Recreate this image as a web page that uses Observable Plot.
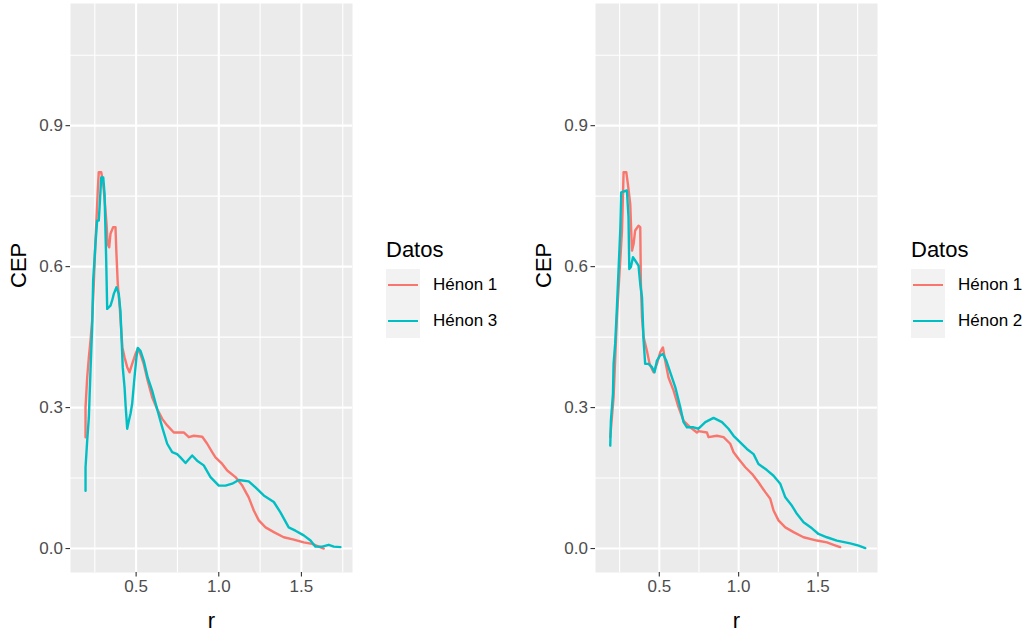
<!DOCTYPE html>
<html><head><meta charset="utf-8">
<script src="https://cdn.jsdelivr.net/npm/d3@7"></script>
<script src="https://cdn.jsdelivr.net/npm/@observablehq/plot@0.6"></script>
<style>
body{margin:0;background:#fff;font-family:"Liberation Sans",Arial,sans-serif;}
#wrap{position:relative;width:1031px;height:632px;overflow:hidden;}
.panel{position:absolute;top:0;}
.lg-title{position:absolute;font-size:22px;color:#000;line-height:22px;}
.lg-box{position:absolute;width:34px;height:69px;background:#F2F2F2;}
.lg-key{position:absolute;width:30px;height:2.4px;}
.lg-lab{position:absolute;font-size:17px;color:#000;line-height:17px;}
</style></head><body><div id="wrap"></div><script>
// Left panel: Hénon 1 vs Hénon 3
const r_h1_left = [0.194,0.194,0.204,0.214,0.224,0.234,0.244,0.254,0.260,0.268,0.274,0.289,0.301,0.310,0.321,0.328,0.337,0.345,0.361,0.375,0.381,0.389,0.401,0.410,0.417,0.430,0.446,0.460,0.476,0.496,0.510,0.526,0.546,0.570,0.597,0.627,0.658,0.688,0.728,0.768,0.788,0.819,0.849,0.900,0.930,0.960,0.980,1.021,1.051,1.101,1.142,1.181,1.212,1.242,1.283,1.333,1.393,1.454,1.514,1.565,1.605,1.635];
const cep_h1_left = [0.237,0.301,0.364,0.407,0.443,0.485,0.563,0.655,0.698,0.762,0.801,0.801,0.776,0.740,0.691,0.648,0.641,0.670,0.684,0.684,0.627,0.563,0.513,0.464,0.428,0.407,0.386,0.375,0.393,0.414,0.425,0.414,0.393,0.357,0.322,0.297,0.276,0.262,0.247,0.247,0.247,0.237,0.240,0.238,0.223,0.205,0.194,0.180,0.166,0.152,0.134,0.109,0.081,0.060,0.045,0.035,0.024,0.019,0.013,0.010,0.004,0.000];
const r_h3_left = [0.194,0.194,0.204,0.214,0.224,0.234,0.240,0.254,0.264,0.274,0.280,0.289,0.301,0.309,0.315,0.319,0.325,0.345,0.355,0.365,0.381,0.395,0.405,0.411,0.419,0.430,0.437,0.446,0.456,0.466,0.476,0.490,0.502,0.510,0.526,0.546,0.570,0.597,0.627,0.658,0.688,0.718,0.748,0.768,0.799,0.839,0.869,0.909,0.950,1.000,1.041,1.081,1.121,1.181,1.222,1.272,1.333,1.373,1.423,1.464,1.514,1.555,1.585,1.626,1.665,1.696,1.736];
const cep_h3_left = [0.123,0.173,0.230,0.279,0.379,0.471,0.570,0.648,0.698,0.698,0.733,0.790,0.790,0.755,0.670,0.613,0.510,0.517,0.528,0.542,0.556,0.542,0.506,0.457,0.386,0.343,0.301,0.255,0.272,0.287,0.308,0.364,0.407,0.427,0.421,0.400,0.364,0.336,0.297,0.258,0.223,0.205,0.201,0.194,0.182,0.198,0.187,0.177,0.152,0.134,0.134,0.138,0.146,0.143,0.130,0.113,0.099,0.077,0.045,0.038,0.028,0.017,0.004,0.004,0.008,0.004,0.003];
// Right panel: Hénon 1 vs Hénon 2
const r_h1_right = [0.191,0.212,0.233,0.265,0.275,0.292,0.302,0.317,0.323,0.328,0.338,0.348,0.369,0.380,0.384,0.391,0.401,0.422,0.439,0.464,0.485,0.506,0.523,0.537,0.558,0.590,0.621,0.653,0.695,0.737,0.747,0.800,0.810,0.863,0.905,0.947,0.968,0.999,1.042,1.084,1.125,1.168,1.199,1.220,1.251,1.294,1.346,1.409,1.493,1.556,1.598,1.640];
const cep_h1_right = [0.237,0.322,0.492,0.677,0.801,0.801,0.776,0.733,0.677,0.634,0.648,0.677,0.687,0.684,0.563,0.492,0.450,0.421,0.393,0.375,0.393,0.418,0.428,0.400,0.364,0.336,0.301,0.272,0.258,0.247,0.250,0.247,0.237,0.240,0.237,0.223,0.205,0.191,0.173,0.159,0.141,0.120,0.106,0.081,0.060,0.045,0.035,0.024,0.017,0.013,0.008,0.003];
const r_h2_right = [0.191,0.195,0.208,0.212,0.222,0.233,0.243,0.254,0.260,0.296,0.306,0.311,0.321,0.334,0.348,0.369,0.380,0.391,0.401,0.411,0.432,0.454,0.470,0.485,0.506,0.523,0.544,0.569,0.601,0.632,0.653,0.674,0.716,0.747,0.790,0.842,0.895,0.936,0.968,1.010,1.052,1.094,1.125,1.178,1.220,1.262,1.294,1.336,1.367,1.409,1.462,1.503,1.556,1.619,1.703,1.756,1.798];
const cep_h2_right = [0.219,0.272,0.329,0.393,0.436,0.513,0.591,0.677,0.758,0.762,0.705,0.595,0.599,0.620,0.613,0.602,0.563,0.535,0.443,0.393,0.393,0.386,0.375,0.400,0.411,0.414,0.400,0.375,0.343,0.301,0.269,0.258,0.258,0.255,0.269,0.278,0.269,0.255,0.240,0.226,0.212,0.201,0.180,0.167,0.155,0.138,0.109,0.091,0.074,0.056,0.043,0.031,0.024,0.017,0.011,0.006,0.001];

const yMajor = [0, 0.3, 0.6, 0.9];
const yMinor = [0.15, 0.45, 0.75, 1.05];
const xMajor = [0.5, 1.0, 1.5];
const xMinor = [0.25, 0.75, 1.25, 1.75];
const legendTitle = "Datos";
const colors = ["#F8766D", "#00BFC4"];

function toRows(rs, cs) { return rs.map((r, i) => ({r, cep: cs[i]})); }

function panel({left, width, marginRight, xDomain, series}) {
  const ax = {fontSize: 17, tickSize: 4.5, tickPadding: 3, stroke: "#333333", fill: "#4D4D4D", strokeWidth: 1.1, label: null, tickFormat: d3.format(".1f")};
  const chart = Plot.plot({
    width, height: 632,
    marginLeft: 70, marginRight, marginTop: 3, marginBottom: 60,
    x: {domain: xDomain},
    y: {domain: [-0.051, 1.16]},
    style: {fontFamily: "'Liberation Sans', Arial, sans-serif", background: "transparent", overflow: "visible"},
    marks: [
      Plot.frame({fill: "#EBEBEB", stroke: null}),
      Plot.gridY(yMinor, {stroke: "#ffffff", strokeOpacity: 1, strokeWidth: 1.1}),
      Plot.gridX(xMinor, {stroke: "#ffffff", strokeOpacity: 1, strokeWidth: 1.1}),
      Plot.gridY(yMajor, {stroke: "#ffffff", strokeOpacity: 1, strokeWidth: 2.1}),
      Plot.gridX(xMajor, {stroke: "#ffffff", strokeOpacity: 1, strokeWidth: 2.1}),
      ...series.map((s, i) => Plot.line(toRows(s[0], s[1]), {x: "r", y: "cep", stroke: colors[i], strokeWidth: 2.4})),
      Plot.axisX(xMajor, {...ax, anchor: "bottom"}),
      Plot.axisY(yMajor, {...ax, anchor: "left"}),
      Plot.text(["r"], {frameAnchor: "bottom", dy: 48, fontSize: 22, fill: "#000", lineAnchor: "middle"}),
      Plot.text(["CEP"], {frameAnchor: "left", dx: -52, rotate: -90, fontSize: 22, fill: "#000"})
    ]
  });
  chart.classList.add("panel");
  chart.style.left = left + "px";
  return chart;
}

const wrap = document.getElementById("wrap");
wrap.appendChild(panel({left: 0, width: 370, marginRight: 18, xDomain: [0.103, 1.809],
  series: [[r_h1_left, cep_h1_left], [r_h3_left, cep_h3_left]]}));
wrap.appendChild(panel({left: 525, width: 360, marginRight: 8, xDomain: [0.098, 1.875],
  series: [[r_h1_right, cep_h1_right], [r_h2_right, cep_h2_right]]}));

function legend(x, names) {
  const t = document.createElement("div");
  t.className = "lg-title"; t.textContent = legendTitle;
  t.style.left = x + "px"; t.style.top = "239px";
  wrap.appendChild(t);
  const b = document.createElement("div");
  b.className = "lg-box"; b.style.left = x + "px"; b.style.top = "269px";
  wrap.appendChild(b);
  names.forEach((n, i) => {
    const cy = 285 + i * 36;
    const k = document.createElement("div");
    k.className = "lg-key"; k.style.background = colors[i];
    k.style.left = (x + 2) + "px"; k.style.top = (cy - 1.2) + "px";
    wrap.appendChild(k);
    const l = document.createElement("div");
    l.className = "lg-lab"; l.textContent = n;
    l.style.left = (x + 47) + "px"; l.style.top = (cy - 9) + "px";
    wrap.appendChild(l);
  });
}
legend(386, ["Hénon 1", "Hénon 3"]);
legend(911, ["Hénon 1", "Hénon 2"]);
</script></body></html>
